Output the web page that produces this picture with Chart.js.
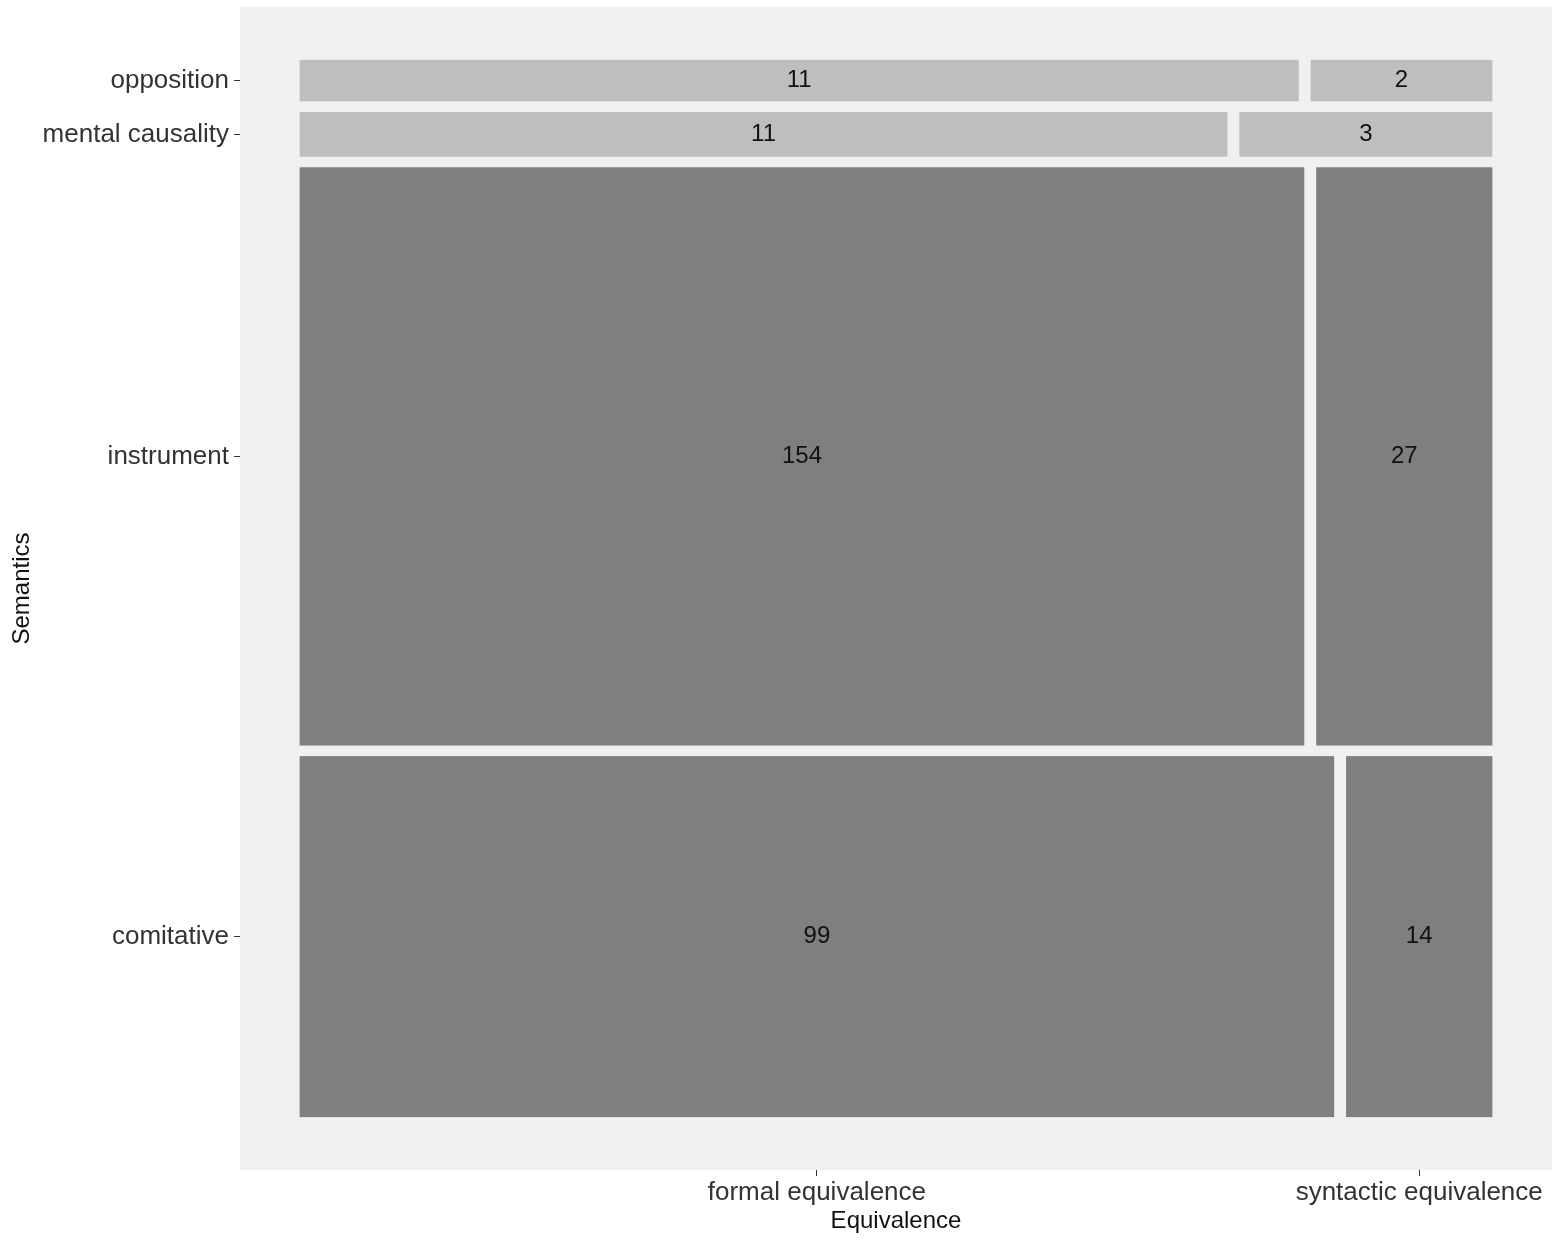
<!DOCTYPE html>
<html>
<head>
<meta charset="utf-8">
<script src="https://cdn.jsdelivr.net/npm/chart.js@4"></script>
<style>
  html, body { margin: 0; padding: 0; background: #fff; }
  #wrap { width: 1559px; height: 1240px; }
</style>
</head>
<body>
<div id="wrap"><canvas id="mosaic"></canvas></div>
<script>
// rows listed bottom to top, like the y axis
const semantics = ['comitative', 'instrument', 'mental causality', 'opposition'];
const equivalence = ['formal equivalence', 'syntactic equivalence'];
const formalCounts = [99, 154, 11, 11];
const syntacticCounts = [14, 27, 3, 2];

const rowFill = ['#7f7f7f', '#7f7f7f', '#bebebe', '#bebebe'];
const gap = 0.01;

// mosaic cells in data units (0..1 on both axes)
function buildCells() {
    const rowTotals = semantics.map((s, i) => formalCounts[i] + syntacticCounts[i]);
    const grand = rowTotals.reduce((a, b) => a + b, 0);
    const usable = 1 - gap * (semantics.length - 1);
    const cells = [];
    const rowCenters = [];
    let y = 0;
    semantics.forEach((s, i) => {
        const h = usable * rowTotals[i] / grand;
        const fw = (1 - gap) * formalCounts[i] / rowTotals[i];
        cells.push({ x0: 0, x1: fw, y0: y, y1: y + h, n: formalCounts[i], row: i });
        cells.push({ x0: fw + gap, x1: 1, y0: y, y1: y + h, n: syntacticCounts[i], row: i });
        rowCenters.push(y + h / 2);
        y += h + gap;
    });
    return { cells, rowCenters };
}

const mosaic = buildCells();
const bottomRow = mosaic.cells.filter(c => c.row === 0);
const colCenters = bottomRow.map(c => (c.x0 + c.x1) / 2);

const mosaicPlugin = {
    id: 'mosaic',
    beforeDraw(chart) {
        const { ctx, chartArea } = chart;
        ctx.save();
        ctx.fillStyle = '#f0f0f0';
        ctx.fillRect(chartArea.left, chartArea.top, chartArea.right - chartArea.left, chartArea.bottom - chartArea.top);
        ctx.restore();
    },
    afterDatasetsDraw(chart) {
        const { ctx, scales } = chart;
        ctx.save();
        mosaic.cells.forEach(c => {
            const left = scales.x.getPixelForValue(c.x0);
            const right = scales.x.getPixelForValue(c.x1);
            const top = scales.y.getPixelForValue(c.y1);
            const bottom = scales.y.getPixelForValue(c.y0);
            ctx.fillStyle = rowFill[c.row];
            ctx.fillRect(left, top, right - left, bottom - top);
            ctx.fillStyle = '#111';
            ctx.font = '24px "Liberation Sans", Arial, sans-serif';
            ctx.textAlign = 'center';
            ctx.textBaseline = 'middle';
            ctx.fillText(String(c.n), (left + right) / 2, (top + bottom) / 2);
        });
        ctx.restore();
    }
};

const tickFont = { family: '"Liberation Sans", Arial, sans-serif', size: 26 };
const titleFont = { family: '"Liberation Sans", Arial, sans-serif', size: 24 };

new Chart(document.getElementById('mosaic'), {
    type: 'scatter',
    data: { datasets: [{ data: [] }] },
    options: {
        responsive: true,
        maintainAspectRatio: false,
        animation: false,
        layout: { padding: { top: 7, right: 7, left: 0, bottom: 0 } },
        plugins: { legend: { display: false }, tooltip: { enabled: false } },
        scales: {
            x: {
                type: 'linear',
                min: -0.05,
                max: 1.05,
                afterBuildTicks: scale => { scale.ticks = colCenters.map(v => ({ value: v })); },
                afterFit: scale => { scale.height = 70; scale.paddingLeft = 0; scale.paddingRight = 0; },
                ticks: {
                    autoSkip: false,
                    maxRotation: 0,
                    padding: 1,
                    color: '#333',
                    font: tickFont,
                    callback: (v, i) => equivalence[i]
                },
                grid: { drawOnChartArea: false, drawTicks: true, tickLength: 6, color: '#333' },
                border: { display: false },
                title: { display: true, text: 'Equivalence', color: '#111', font: titleFont, padding: { top: 0, bottom: 4 } }
            },
            y: {
                type: 'linear',
                min: -0.05,
                max: 1.05,
                afterBuildTicks: scale => { scale.ticks = mosaic.rowCenters.map(v => ({ value: v })); },
                afterFit: scale => { scale.width = 240; scale.paddingTop = 0; scale.paddingBottom = 0; },
                ticks: {
                    autoSkip: false,
                    padding: 5,
                    color: '#333',
                    font: tickFont,
                    callback: (v, i) => semantics[i]
                },
                grid: { drawOnChartArea: false, drawTicks: true, tickLength: 6, color: '#333' },
                border: { display: false },
                title: { display: true, text: 'Semantics', color: '#111', font: titleFont, padding: { top: 8, bottom: 0 } }
            }
        }
    },
    plugins: [mosaicPlugin]
});
</script>
</body>
</html>
